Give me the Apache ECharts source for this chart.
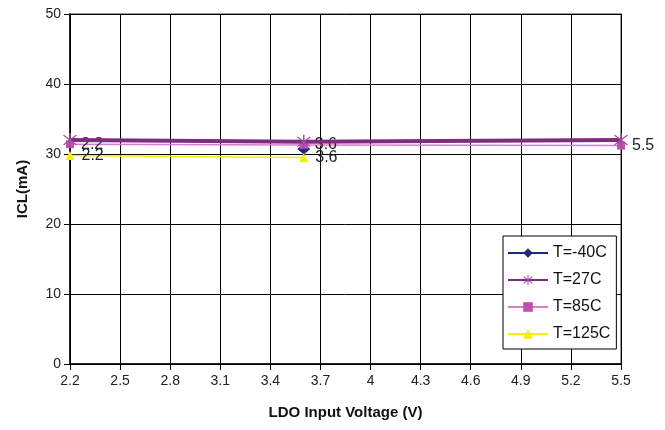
<!DOCTYPE html>
<html>
<head>
<meta charset="utf-8">
<script src="https://cdn.jsdelivr.net/npm/echarts@6/dist/echarts.min.js"></script>
<style>
  html, body { margin: 0; padding: 0; background: #fff; }
  #chart { width: 665px; height: 430px; }
</style>
</head>
<body>
<div id="chart"></div>
<script>
// LDO input voltage (V) at which the current limit was measured
const voltages = [2.2, 3.6, 5.5];
// ICL (mA) per temperature; null where no measurement exists
const iclMinus40 = [null, 30.7, null];
const icl27 = [32.0, 31.75, 32.0];
const icl85 = [31.4, 31.3, 31.2];
const icl125 = [29.8, 29.5, null];
const seriesNames = ['T=-40C', 'T=27C', 'T=85C', 'T=125C'];
const xTicks = { min: 2.2, max: 5.5, step: 0.3 };
const yTicks = { min: 0, max: 50, step: 10 };

function pairs(values) {
  return voltages.map((v, i) => [v, values[i]]).filter(p => p[1] !== null);
}

// asterisk marker made of thin bars
const asterisk = 'path://M-0.8,-10L0.8,-10L0.8,10L-0.8,10Z' +
  'M-7.6,-6.5L-6.5,-7.6L7.6,6.5L6.5,7.6Z' +
  'M6.5,-7.6L7.6,-6.5L-6.5,7.6L-7.6,6.5Z';

const labelStyle = {
  show: true,
  position: 'right',
  distance: 7,
  color: '#222',
  fontSize: 16,
  fontFamily: 'Liberation Sans, Arial, sans-serif',
  formatter: p => String(p.value[0])
};

const chart = echarts.init(document.getElementById('chart'), null, { renderer: 'canvas' });
chart.setOption({
  animation: false,
  backgroundColor: '#fff',
  grid: {
    left: 70, right: 44, top: 14, bottom: 66,
    show: true, borderColor: '#999', borderWidth: 2, backgroundColor: 'transparent'
  },
  xAxis: {
    type: 'value',
    min: xTicks.min, max: xTicks.max, interval: xTicks.step,
    name: 'LDO Input Voltage (V)',
    nameLocation: 'middle', nameGap: 41,
    nameTextStyle: { fontSize: 15, fontWeight: 'bold', color: '#111', fontFamily: 'Liberation Sans, Arial, sans-serif' },
    axisLine: { show: true, lineStyle: { color: '#000', width: 1.5 } },
    axisTick: { show: true, inside: false, length: 6, lineStyle: { color: '#000' } },
    axisLabel: {
      margin: 10, fontSize: 14, color: '#222', fontFamily: 'Liberation Sans, Arial, sans-serif',
      formatter: v => String(parseFloat(v.toFixed(1)))
    },
    splitLine: { show: true, lineStyle: { color: '#000', width: 1 } }
  },
  yAxis: {
    type: 'value',
    min: yTicks.min, max: yTicks.max, interval: yTicks.step,
    name: 'ICL(mA)',
    nameLocation: 'middle', nameGap: 40,
    nameTextStyle: { fontSize: 15, fontWeight: 'bold', color: '#111', fontFamily: 'Liberation Sans, Arial, sans-serif' },
    axisLine: { show: true, lineStyle: { color: '#000', width: 1.5 } },
    axisTick: { show: true, inside: false, length: 6, lineStyle: { color: '#000' } },
    axisLabel: { margin: 9, fontSize: 14, color: '#222', fontFamily: 'Liberation Sans, Arial, sans-serif' },
    splitLine: { show: true, lineStyle: { color: '#000', width: 1 } }
  },
  legend: {
    orient: 'vertical',
    left: 503, top: 236,
    width: 113,
    padding: [9, 6, 7, 4],
    itemGap: 11,
    itemWidth: 40, itemHeight: 12,
    backgroundColor: '#fff',
    borderColor: '#000', borderWidth: 1,
    textStyle: { fontSize: 16, color: '#111', fontFamily: 'Liberation Sans, Arial, sans-serif' },
    data: seriesNames
  },
  series: [
    {
      name: seriesNames[0], type: 'line', data: pairs(iclMinus40),
      color: '#1f2a7a',
      lineStyle: { width: 3, color: '#1f2a7a' },
      symbol: 'diamond', symbolSize: [13, 11],
      itemStyle: { color: '#1f2a7a' }, z: 2
    },
    {
      name: seriesNames[2], type: 'line', data: pairs(icl85),
      color: '#c660b8',
      lineStyle: { width: 1.5, color: '#d77dcc' },
      symbol: 'rect', symbolSize: 8,
      itemStyle: { color: '#c04fb0' },
      label: labelStyle, z: 3
    },
    {
      name: seriesNames[1], type: 'line', data: pairs(icl27),
      color: '#7e2c80',
      lineStyle: { width: 4, color: '#7e2c80' },
      symbol: asterisk, symbolSize: 14,
      itemStyle: { color: '#a04ca0' }, z: 4
    },
    {
      name: seriesNames[3], type: 'line', data: pairs(icl125),
      color: '#f5f000',
      lineStyle: { width: 1.5, color: '#f5f000' },
      symbol: 'triangle', symbolSize: 9,
      itemStyle: { color: '#f5f000' },
      label: labelStyle, z: 3
    }
  ]
});
</script>
</body>
</html>
